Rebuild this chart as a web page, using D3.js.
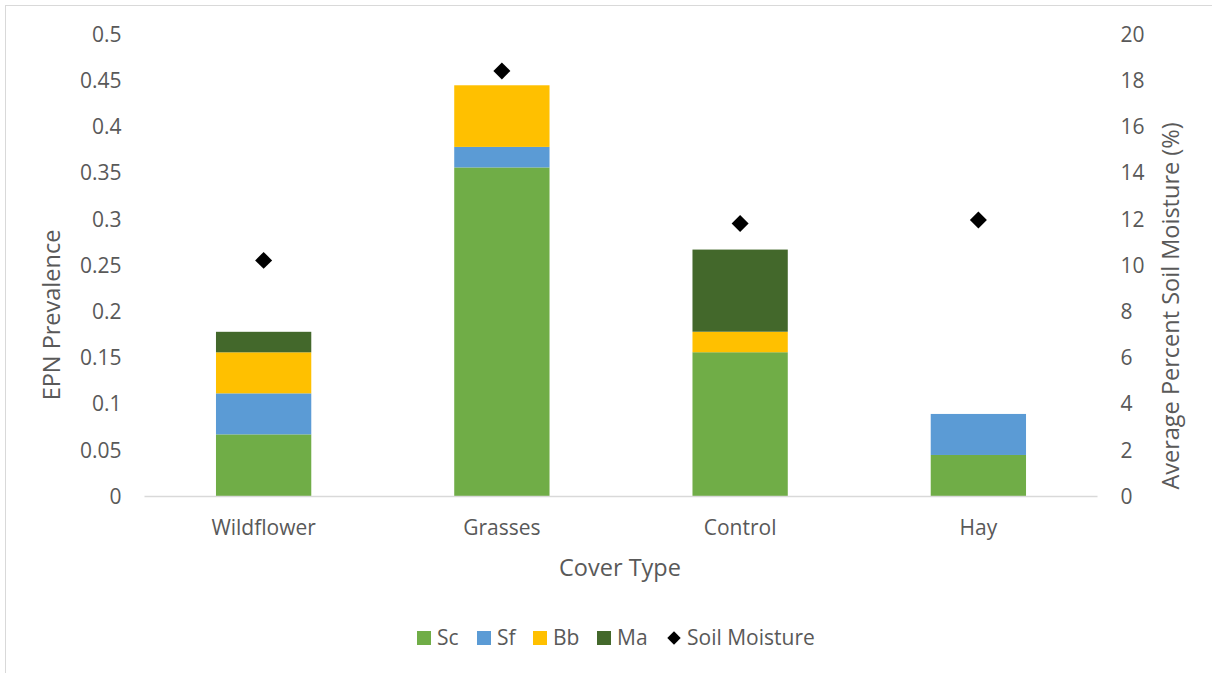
<!DOCTYPE html>
<html>
<head>
<meta charset="utf-8">
<script src="https://cdn.jsdelivr.net/npm/d3@7"></script>
<style>
  html, body { margin: 0; padding: 0; background: #fff; }
  svg { display: block; }
  text { font-family: "Open Sans", sans-serif; fill: #595959; }
</style>
</head>
<body>
<svg id="chart" width="1212" height="673"></svg>
<script>
// Cover types along the x axis
const categories = ["Wildflower", "Grasses", "Control", "Hay"];
// Stacked EPN prevalence per species
const seriesNames = ["Sc", "Sf", "Bb", "Ma"];
const sc = [0.0667, 0.3556, 0.1556, 0.0444];
const sf = [0.0444, 0.0222, 0.0, 0.0444];
const bb = [0.0444, 0.0667, 0.0222, 0.0];
const ma = [0.0222, 0.0, 0.0889, 0.0];
// Average percent soil moisture (right axis)
const soilMoisture = [10.2, 18.4, 11.8, 11.95];
// Tick labels
const leftTicks = [0, 0.05, 0.1, 0.15, 0.2, 0.25, 0.3, 0.35, 0.4, 0.45, 0.5];
const rightTicks = [0, 2, 4, 6, 8, 10, 12, 14, 16, 18, 20];

const colors = { Sc: "#70AD47", Sf: "#5B9BD5", Bb: "#FFC000", Ma: "#43682B" };

const svg = d3.select("#chart");

// chart frame
svg.append("rect")
  .attr("x", 5.5).attr("y", 5.5)
  .attr("width", 1230).attr("height", 690)
  .attr("fill", "#fff").attr("stroke", "#d9d9d9").attr("stroke-width", 1);

const plot = { left: 144.5, right: 1097.5, top: 34, bottom: 496 };

const x = d3.scaleBand()
  .domain(categories)
  .range([plot.left, plot.right])
  .paddingInner(0.6)
  .paddingOuter(0.3);

const yL = d3.scaleLinear().domain([0, 0.5]).range([plot.bottom, plot.top]);
const yR = d3.scaleLinear().domain([0, 20]).range([plot.bottom, plot.top]);

// stacked rows
const rows = categories.map((c, i) => ({ cat: c, Sc: sc[i], Sf: sf[i], Bb: bb[i], Ma: ma[i] }));
const stack = d3.stack().keys(seriesNames)(rows);

svg.append("g").selectAll("g")
  .data(stack)
  .join("g")
  .attr("fill", d => colors[d.key])
  .selectAll("rect")
  .data(d => d.filter(s => s[1] - s[0] > 0))
  .join("rect")
  .attr("x", d => x(d.data.cat))
  .attr("width", x.bandwidth())
  .attr("y", d => yL(d[1]))
  .attr("height", d => yL(d[0]) - yL(d[1]));

// baseline
svg.append("line")
  .attr("x1", plot.left).attr("x2", plot.right)
  .attr("y1", plot.bottom + 0.5).attr("y2", plot.bottom + 0.5)
  .attr("stroke", "#d9d9d9").attr("stroke-width", 1.3);

// left axis
const leftAxis = svg.append("g")
  .attr("transform", `translate(${plot.left - 23},0)`)
  .call(d3.axisLeft(yL).tickValues(leftTicks).tickSize(0).tickPadding(0)
    .tickFormat(d => String(+d.toFixed(2))));
leftAxis.select(".domain").remove();
leftAxis.selectAll("text").style("font-size", "21px").attr("fill", "#595959").attr("dy", "0.35em");

// right axis
const rightAxis = svg.append("g")
  .attr("transform", `translate(${plot.right + 23},0)`)
  .call(d3.axisRight(yR).tickValues(rightTicks).tickSize(0).tickPadding(0));
rightAxis.select(".domain").remove();
rightAxis.selectAll("text").style("font-size", "21px").attr("fill", "#595959").attr("dy", "0.35em");

// category axis
const bottomAxis = svg.append("g")
  .attr("transform", `translate(0,${plot.bottom})`)
  .call(d3.axisBottom(x).tickSize(0).tickPadding(0));
bottomAxis.select(".domain").remove();
bottomAxis.selectAll("text").style("font-size", "21px").attr("fill", "#595959")
  .attr("dy", null).attr("y", 39);

// axis titles
svg.append("text")
  .attr("x", (plot.left + plot.right) / 2 - 1).attr("y", 576)
  .attr("text-anchor", "middle").style("font-size", "23.5px")
  .text("Cover Type");

svg.append("text")
  .attr("transform", `translate(60,315) rotate(-90)`)
  .attr("text-anchor", "middle").style("font-size", "23.5px")
  .text("EPN Prevalence");

svg.append("text")
  .attr("transform", `translate(1179,306) rotate(-90)`)
  .attr("text-anchor", "middle").style("font-size", "23.5px")
  .text("Average Percent Soil Moisture (%)");

// soil moisture markers
const diamond = d3.symbol().type(d3.symbolSquare).size(144);
svg.append("g").selectAll("path")
  .data(soilMoisture)
  .join("path")
  .attr("d", diamond)
  .attr("fill", "#000")
  .attr("transform", (d, i) => `translate(${x(categories[i]) + x.bandwidth() / 2},${yR(d)}) rotate(45)`);

// legend
const legendY = 638;
const legendItems = [
  { name: "Sc", x: 417, type: "rect" },
  { name: "Sf", x: 477, type: "rect" },
  { name: "Bb", x: 533, type: "rect" },
  { name: "Ma", x: 597, type: "rect" },
  { name: "Soil Moisture", x: 667, type: "marker" }
];
const legend = svg.append("g");
legendItems.forEach(item => {
  if (item.type === "rect") {
    legend.append("rect")
      .attr("x", item.x).attr("y", legendY - 7)
      .attr("width", 14).attr("height", 14)
      .attr("fill", colors[item.name]);
  } else {
    legend.append("path")
      .attr("d", d3.symbol().type(d3.symbolSquare).size(90))
      .attr("fill", "#000")
      .attr("transform", `translate(${item.x + 7},${legendY}) rotate(45)`);
  }
  legend.append("text")
    .attr("x", item.x + 20).attr("y", legendY)
    .attr("dy", "0.35em")
    .style("font-size", "21px")
    .text(item.name);
});
</script>
</body>
</html>
